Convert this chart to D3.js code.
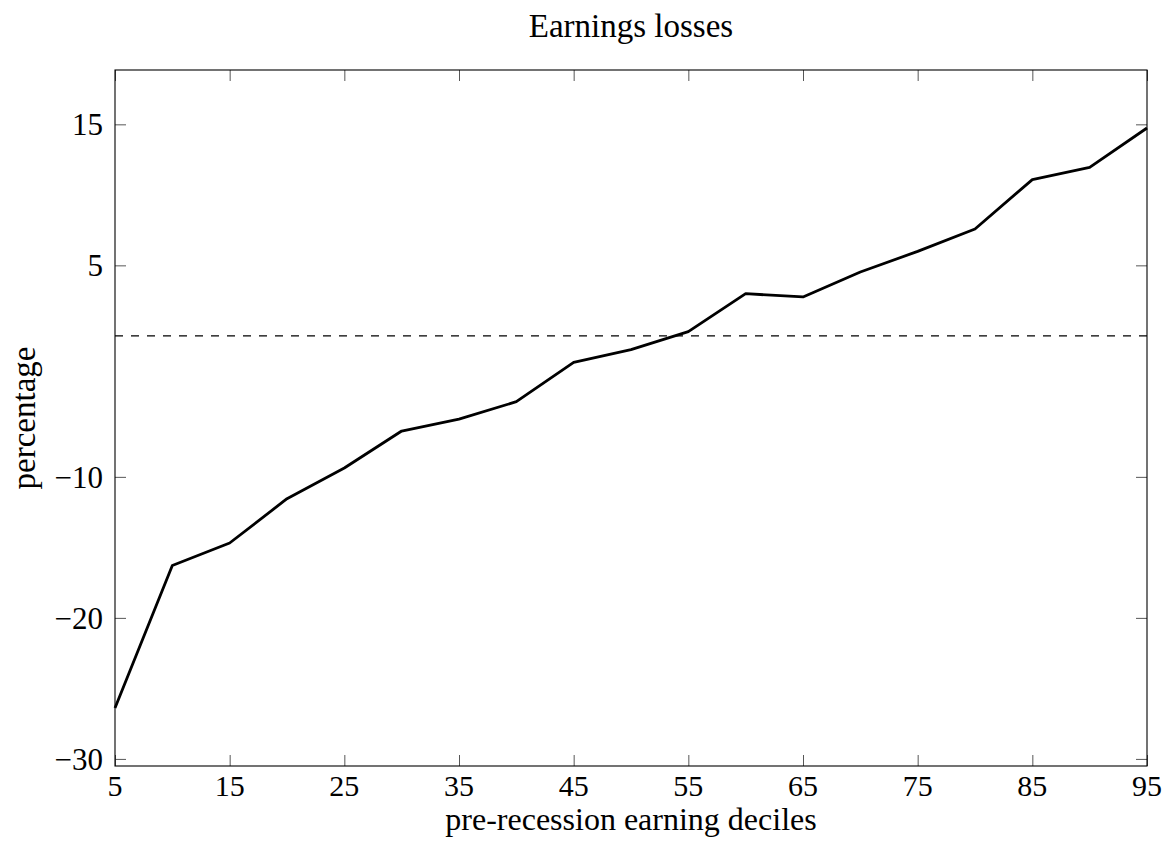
<!DOCTYPE html>
<html>
<head>
<meta charset="utf-8">
<script src="https://cdn.jsdelivr.net/npm/d3@7"></script>
<style>
  body { margin: 0; background: #fff; }
  svg text { font-family: "Liberation Serif", "DejaVu Serif", serif; fill: #000; }
</style>
</head>
<body>
<svg id="chart" width="1169" height="850"></svg>
<script>
const width = 1169;
const height = 850;

// deciles on the x axis, earnings loss (percentage) per decile
const deciles = [5, 10, 15, 20, 25, 30, 35, 40, 45, 50, 55, 60, 65, 70, 75, 80, 85, 90, 95];
const losses = [-26.39, -16.28, -14.69, -11.55, -9.37, -6.75, -5.9, -4.67, -1.88, -0.98,
                0.3, 2.99, 2.76, 4.53, 5.99, 7.58, 11.08, 11.95, 14.74];
const xTicks = [5, 15, 25, 35, 45, 55, 65, 75, 85, 95];
const yTicks = [-30, -20, -10, 5, 15];
const refLine = 0;

const margin = { top: 70, right: 22, bottom: 84, left: 115 };

const svg = d3.select("#chart");

const x = d3.scaleLinear()
    .domain([5, 95])
    .range([margin.left, width - margin.right]);

// pgfplots style: enlarge y limits by 10% of the data range
const [yMin, yMax] = d3.extent(losses);
const pad = (yMax - yMin) * 0.1;
const y = d3.scaleLinear()
    .domain([yMin - pad, yMax + pad])
    .range([height - margin.bottom, margin.top]);

const plotW = width - margin.left - margin.right;
const plotH = height - margin.top - margin.bottom;

// inner ticks on all four sides
const tickLen = 11;
const xAxisBottom = d3.axisBottom(x).tickValues(xTicks).tickSize(-tickLen).tickFormat("");
const xAxisTop = d3.axisTop(x).tickValues(xTicks).tickSize(-tickLen).tickFormat("");
const yAxisLeft = d3.axisLeft(y).tickValues(yTicks).tickSize(-tickLen).tickFormat("");
const yAxisRight = d3.axisRight(y).tickValues(yTicks).tickSize(-tickLen).tickFormat("");

function styleAxis(g) {
    g.select(".domain").remove();
    g.selectAll(".tick line").attr("stroke", "#444").attr("stroke-width", 0.9);
}

svg.append("g").attr("transform", `translate(0,${height - margin.bottom})`).call(xAxisBottom).call(styleAxis);
svg.append("g").attr("transform", `translate(0,${margin.top})`).call(xAxisTop).call(styleAxis);
svg.append("g").attr("transform", `translate(${margin.left},0)`).call(yAxisLeft).call(styleAxis);
svg.append("g").attr("transform", `translate(${width - margin.right},0)`).call(yAxisRight).call(styleAxis);

// tick labels
svg.append("g")
    .selectAll("text")
    .data(xTicks)
    .join("text")
    .attr("x", d => x(d))
    .attr("y", height - margin.bottom + 30)
    .attr("text-anchor", "middle")
    .attr("font-size", "30px")
    .text(d => d);

svg.append("g")
    .selectAll("text")
    .data(yTicks)
    .join("text")
    .attr("x", margin.left - 12)
    .attr("y", d => y(d) + 11)
    .attr("text-anchor", "end")
    .attr("font-size", "31px")
    .text(d => d < 0 ? "\u2212" + Math.abs(d) : d);

// dashed zero line
svg.append("line")
    .attr("x1", margin.left)
    .attr("x2", width - margin.right)
    .attr("y1", y(refLine))
    .attr("y2", y(refLine))
    .attr("stroke", "#000")
    .attr("stroke-width", 1.2)
    .attr("stroke-dasharray", "8,8");

// main line
const line = d3.line()
    .x((d, i) => x(deciles[i]))
    .y(d => y(d));

svg.append("path")
    .datum(losses)
    .attr("fill", "none")
    .attr("stroke", "#000")
    .attr("stroke-width", 2.8)
    .attr("stroke-linejoin", "round")
    .attr("d", line);

// frame
svg.append("rect")
    .attr("x", margin.left)
    .attr("y", margin.top)
    .attr("width", plotW)
    .attr("height", plotH)
    .attr("fill", "none")
    .attr("stroke", "#000")
    .attr("stroke-width", 1.1);

// title and axis labels
svg.append("text")
    .attr("x", margin.left + plotW / 2)
    .attr("y", 37)
    .attr("text-anchor", "middle")
    .attr("font-size", "33px")
    .text("Earnings losses");

svg.append("text")
    .attr("x", margin.left + plotW / 2)
    .attr("y", 830)
    .attr("text-anchor", "middle")
    .attr("font-size", "32px")
    .text("pre-recession earning deciles");

svg.append("text")
    .attr("transform", `translate(35,${margin.top + plotH / 2}) rotate(-90)`)
    .attr("text-anchor", "middle")
    .attr("font-size", "33px")
    .text("percentage");
</script>
</body>
</html>
